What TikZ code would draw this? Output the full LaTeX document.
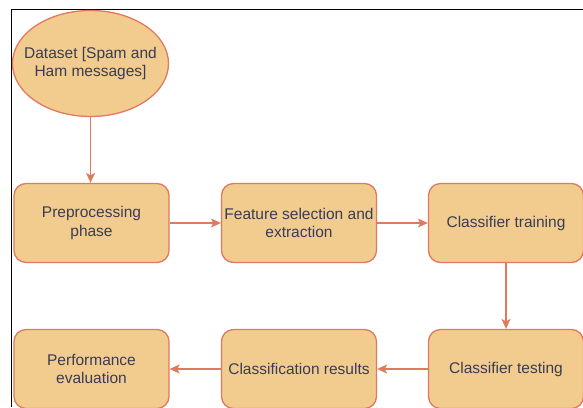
\documentclass[tikz,border=0pt]{standalone}
\usepackage{fontspec}
\setmainfont{Liberation Sans}
\usetikzlibrary{arrows.meta,shapes.geometric}
\definecolor{boxfill}{HTML}{F2CC8F}
\definecolor{boxline}{HTML}{E07A5F}
\definecolor{boxtext}{HTML}{393C56}
\begin{document}
\begin{tikzpicture}[x=1pt,y=-1pt,
  label text/.style={align=center, text=boxtext, font=\fontsize{15.5}{18.6}\selectfont},
  stepbox/.style={draw=boxline, fill=boxfill, line width=1.3pt, rounded corners=12pt,
    minimum width=155pt, minimum height=79pt, inner sep=0pt, label text},
  startnode/.style={draw=boxline, fill=boxfill, line width=1.3pt, ellipse,
    minimum width=156pt, minimum height=106pt, inner sep=0pt},
  flow/.style={draw=boxline, line width=1.3pt,
    -{Stealth[length=10pt,width=9pt,inset=2.5pt]}},
  frameline/.style={draw=black, line width=1pt}]
\useasboundingbox (0,0) rectangle (583,407);
\fill[white] (0,0) rectangle (583,407);
\draw[frameline] (583,9.5) -- (11,9.5) -- (11,407);

\node[startnode] (data) at (90.5,63.5) {};
\node[label text] (datatext) at (data.center) {Dataset [Spam and\\Ham messages]};
\node[stepbox] (pre) at (91.5,223) {Preprocessing\\phase};
\node[stepbox] (feat) at (299,223) {Feature selection and\\extraction};
\node[stepbox] (train) at (506,223) {Classifier training};
\node[stepbox] (test) at (506,369) {Classifier testing};
\node[stepbox] (res) at (299,369) {Classification results};
\node[stepbox] (perf) at (91.5,369) {Performance\\evaluation};

\draw[flow] (data.south) -- (data.south |- pre.north);
\draw[flow] (pre) -- (feat);
\draw[flow] (feat) -- (train);
\draw[flow] (train) -- (test);
\draw[flow] (test) -- (res);
\draw[flow] (res) -- (perf);
\end{tikzpicture}
\end{document}
